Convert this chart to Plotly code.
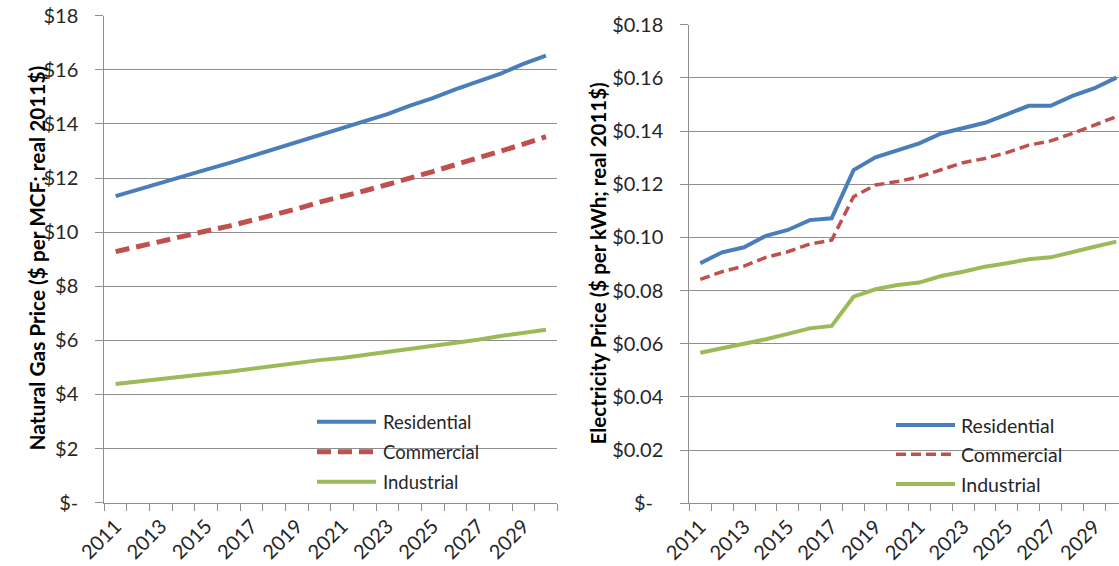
import plotly.graph_objects as go

# ---- data -------------------------------------------------------------
years = list(range(2011, 2031))

gas_residential = [11.33, 11.58, 11.84, 12.09, 12.31, 12.55, 12.81, 13.05, 13.31, 13.57,
                   13.84, 14.08, 14.36, 14.68, 14.95, 15.28, 15.58, 15.86, 16.22, 16.52]
gas_commercial = [9.28, 9.48, 9.68, 9.86, 10.04, 10.22, 10.43, 10.64, 10.86, 11.11,
                  11.31, 11.53, 11.76, 11.98, 12.24, 12.49, 12.74, 12.98, 13.25, 13.53]
gas_industrial = [4.39, 4.49, 4.57, 4.68, 4.76, 4.84, 4.95, 5.03, 5.15, 5.27,
                  5.35, 5.46, 5.58, 5.70, 5.82, 5.90, 6.02, 6.16, 6.28, 6.39]

elec_residential = [0.0903, 0.0944, 0.0963, 0.1006, 0.1028, 0.1065, 0.1072, 0.1253, 0.1301, 0.1326,
                    0.1354, 0.1391, 0.1410, 0.1431, 0.1463, 0.1495, 0.1495, 0.1532, 0.1561, 0.1601]
elec_commercial = [0.0842, 0.0871, 0.0892, 0.0925, 0.0946, 0.0975, 0.0990, 0.1153, 0.1197, 0.1210,
                   0.1228, 0.1256, 0.1281, 0.1297, 0.1319, 0.1347, 0.1363, 0.1391, 0.1423, 0.1454]
elec_industrial = [0.0566, 0.0583, 0.0598, 0.0617, 0.0637, 0.0658, 0.0667, 0.0777, 0.0805, 0.0821,
                   0.0830, 0.0855, 0.0871, 0.0890, 0.0903, 0.0918, 0.0925, 0.0946, 0.0965, 0.0984]

gas_ticks = [0, 2, 4, 6, 8, 10, 12, 14, 16, 18]
gas_ticklabels = ["$-", "$2", "$4", "$6", "$8", "$10", "$12", "$14", "$16", "$18"]
elec_ticks = [0, 0.02, 0.04, 0.06, 0.08, 0.10, 0.12, 0.14, 0.16, 0.18]
elec_ticklabels = ["$-\u00a0\u00a0", "$0.02", "$0.04", "$0.06", "$0.08", "$0.10",
                   "$0.12", "$0.14", "$0.16", "$0.18"]
year_ticks = list(range(2011, 2030, 2))
year_labels = [str(y) for y in year_ticks]

series_names = ["Residential", "Commercial", "Industrial"]

# ---- styling ------------------------------------------------------------
W, H = 1119, 566
FONT = "Lato"
TEXT = "#262626"
GRID = "#8f8f8f"
BLUE = "#4a7ebb"
RED = "#c0504d"
GREEN = "#9bbb59"


def px(x):
    return x / W


def py(y):
    return 1 - y / H


fig = go.Figure()

gas_styles = [dict(color=BLUE, width=4),
              dict(color=RED, width=5, dash="14px,7px"),
              dict(color=GREEN, width=4)]
elec_styles = [dict(color=BLUE, width=4),
               dict(color=RED, width=3.5, dash="10px,5px"),
               dict(color=GREEN, width=4)]

for name, vals, style in zip(series_names,
                             [gas_residential, gas_commercial, gas_industrial],
                             gas_styles):
    fig.add_trace(go.Scatter(x=years, y=vals, mode="lines", name=name,
                             line=style, xaxis="x", yaxis="y", showlegend=False))

for name, vals, style in zip(series_names,
                             [elec_residential, elec_commercial, elec_industrial],
                             elec_styles):
    fig.add_trace(go.Scatter(x=years, y=vals, mode="lines", name=name,
                             line=style, xaxis="x2", yaxis="y2", showlegend=False))

boundaries = [y - 0.5 for y in years] + [years[-1] + 0.5]

xcommon = dict(
    tickmode="array", tickvals=year_ticks, ticktext=year_labels, tickangle=-45,
    tickfont=dict(family=FONT, size=20, color=TEXT), ticklabelstandoff=3,
    showgrid=False, zeroline=False, showline=True, linecolor=GRID, linewidth=1,
    ticks="", fixedrange=True, automargin=False,
    minor=dict(tickmode="array", tickvals=boundaries, ticks="outside",
               ticklen=7, tickcolor=GRID, tickwidth=1, showgrid=False),
)
ycommon = dict(
    tickmode="array", showgrid=True, gridcolor=GRID, gridwidth=1,
    zeroline=False, showline=True, linecolor=GRID, linewidth=1,
    ticks="outside", ticklen=8, tickcolor=GRID, automargin=False,
    tickfont=dict(family=FONT, size=20, color=TEXT), ticklabelstandoff=13,
)

fig.update_layout(
    width=W, height=H,
    margin=dict(l=0, r=0, t=0, b=0, autoexpand=False),
    paper_bgcolor="white", plot_bgcolor="white",
    showlegend=False,
    xaxis=dict(domain=[px(104.3), px(557.3)], range=[2010.5, 2030.5],
               anchor="y", **xcommon),
    yaxis=dict(domain=[py(502.7), py(15.7)], range=[0, 18], anchor="x",
               tickvals=gas_ticks, ticktext=gas_ticklabels, **ycommon),
    xaxis2=dict(domain=[px(689.3), 1.0], range=[2010.5, 2010.5 + (W - 689.3) / 21.9],
                anchor="y2", **xcommon),
    yaxis2=dict(domain=[py(503.3), py(24.7)], range=[0, 0.18], anchor="x2",
                tickvals=elec_ticks, ticktext=elec_ticklabels, **ycommon),
)

# axis titles
fig.add_annotation(x=px(21), y=py(258), xref="paper", yref="paper",
                   text="<b>Natural Gas Price ($ per MCF; real 2011$)</b>",
                   textangle=-90, showarrow=False,
                   font=dict(family=FONT, size=20.8, color="black"))
fig.add_annotation(x=px(597.5), y=py(264), xref="paper", yref="paper",
                   text="<b>Electricity Price ($ per kWh; real 2011$)</b>",
                   textangle=-90, showarrow=False,
                   font=dict(family=FONT, size=20.5, color="black"))

# legend panels: white box over the gridlines, line samples and labels
legends = [
    dict(box=(241, 404, 553, 498), x0=317, x1=376, tx=381, ys=[421.7, 451.7, 481.7],
         styles=gas_styles, size=18.5),
    dict(box=(828, 404, W + 2, 500), x0=896, x1=955, tx=959, ys=[425, 454.3, 484],
         styles=elec_styles, size=19.5),
]
for lg in legends:
    bx0, by0, bx1, by1 = lg["box"]
    fig.add_shape(type="rect", xref="paper", yref="paper",
                  x0=px(bx0), x1=px(bx1), y0=py(by1), y1=py(by0),
                  fillcolor="white", line=dict(width=0), layer="between")
    for name, yy, style in zip(series_names, lg["ys"], lg["styles"]):
        fig.add_shape(type="line", xref="paper", yref="paper",
                      x0=px(lg["x0"]), x1=px(lg["x1"]), y0=py(yy), y1=py(yy),
                      line=style)
        fig.add_annotation(x=px(lg["tx"]), y=py(yy), xref="paper", yref="paper",
                           text=name, showarrow=False, xanchor="left", yanchor="middle",
                           font=dict(family=FONT, size=lg["size"], color=TEXT))

fig.write_html("out.html")
